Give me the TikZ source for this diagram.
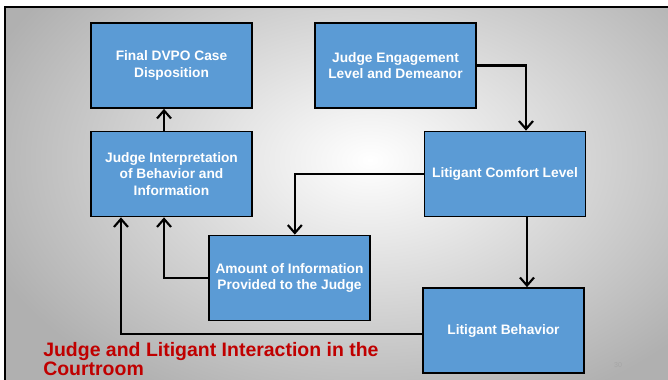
\documentclass[tikz,border=0pt]{standalone}
\usepackage{fontspec}
\setmainfont{Liberation Sans}
\usepackage{xcolor}
\usepackage{tikz}
\usetikzlibrary{arrows.meta}
\definecolor{boxblue}{HTML}{5B9BD5}
\definecolor{titlered}{HTML}{C00000}

\begin{document}
\begin{tikzpicture}[
  x=0.75pt, y=-0.75pt,
  >={Straight Barb[length=6pt,width=10.5pt]},
  module/.style={rectangle, draw=black, line width=1.3pt, fill=boxblue, text=white, align=center, minimum width=120.75pt, minimum height=63.75pt, font=\fontsize{10.3}{12.5}\selectfont\bfseries},
  link/.style={draw, line width=1.6pt}
]
\useasboundingbox (0,0) rectangle (668,379);

% Slide background
\begin{scope}
  \clip (5,7) rectangle (670,381);
  \shade[inner color=white, outer color=gray!62] (-40,-110) rectangle (780,430);
\end{scope}
\draw[line width=1.6pt] (5,381) -- (5,7) -- (670,7);

% Top row
\node[module] (final) at (171.5,65.5) {Final DVPO Case\\Disposition};
\node[module] (engage) at (395.5,65.5) {Judge Engagement\\Level and Demeanor};

% Middle row
\node[module] (interp) at (171.5,174) {Judge Interpretation\\of Behavior and\\Information};
\node[module] (comfort) at (505,174) {Litigant Comfort Level};

% Bottom row
\node[module] (amount) at (289.5,278) {Amount of Information\\Provided to the Judge};
\node[module] (behavior) at (503.5,330.5) {Litigant Behavior};

% Connect modules
\draw[link,->] ([xshift=-5.6pt]interp.north) -- ([xshift=-5.6pt]final.south);
\draw[link,->] (engage.east) -| ([xshift=15.75pt]comfort.north);
\draw[link,->] (comfort.west) -| ([xshift=4pt]amount.north);
\draw[link,->] (amount.west) -| ([xshift=-5.6pt]interp.south);
\draw[link,->] ([xshift=16.5pt]comfort.south) -- ([xshift=16.5pt]comfort.south |- behavior.north);
\draw[link,->] ([yshift=-2.6pt]behavior.west) -| ([xshift=-37.9pt]interp.south);

% Title and page number
\node[anchor=north west, inner sep=0pt, align=left, text=titlered, font=\fontsize{14.6}{14.3}\selectfont\bfseries] (title) at (43,342) {Judge and Litigant Interaction in the\\Courtroom};
\node[text=black!35, font=\fontsize{5.3}{6}\selectfont] (page) at (618,365) {30};

\end{tikzpicture}
\end{document}
